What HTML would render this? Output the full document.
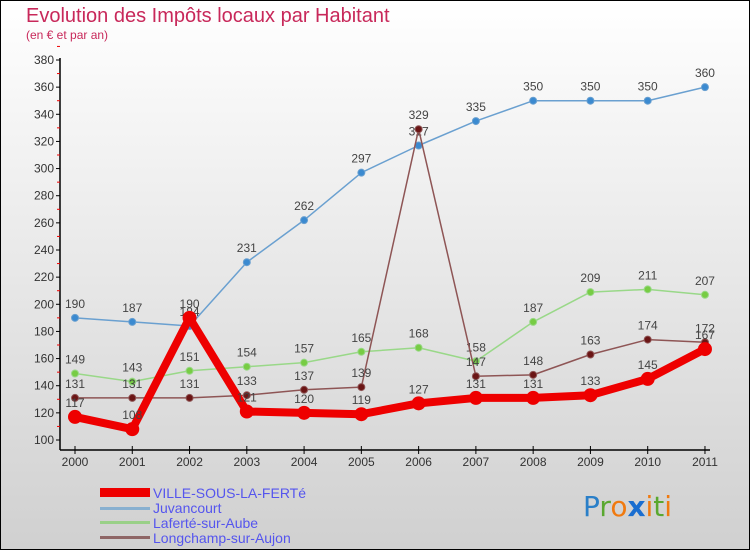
<!DOCTYPE html>
<html><head><meta charset="utf-8"><style>
body{margin:0;width:750px;height:550px;overflow:hidden;font-family:"Liberation Sans",sans-serif}
svg{display:block}
</style></head><body>
<svg width="750" height="550">
<defs><linearGradient id="bg" x1="0" y1="0" x2="0" y2="1"><stop offset="0" stop-color="#ffffff"/><stop offset="1" stop-color="#d0d0d0"/></linearGradient></defs>
<rect x="0.5" y="0.5" width="749" height="549" fill="url(#bg)" stroke="#000"/>
<text x="26" y="22" font-size="20" fill="#c8285a">Evolution des Impôts locaux par Habitant</text>
<text x="26" y="39" font-size="12" fill="#c8285a">(en € et par an)</text>
<g id="axes"></g>
<g id="series"></g>
<g>
<rect x="100" y="488" width="50" height="9" fill="#ee0000"/>
<text x="153" y="498" font-size="14" fill="#5555ee">VILLE-SOUS-LA-FERTé</text>
<rect x="100" y="507" width="50" height="3" fill="#88b0d0"/>
<text x="153" y="513" font-size="14" fill="#5555ee">Juvancourt</text>
<rect x="100" y="521" width="50" height="3" fill="#99d088"/>
<text x="153" y="528" font-size="14" fill="#5555ee">Laferté-sur-Aube</text>
<rect x="100" y="536" width="50" height="3" fill="#8e6666"/>
<text x="153" y="543" font-size="14" fill="#5555ee">Longchamp-sur-Aujon</text>
</g>
<g font-size="28" font-family="'DejaVu Sans',sans-serif">
<text x="583" y="516"><tspan fill="#2a7fc8">P</tspan><tspan fill="#5aa830">r</tspan><tspan fill="#f07a10">o</tspan><tspan fill="#1a6ed0" font-weight="bold">x</tspan><tspan fill="#f07a10">i</tspan><tspan fill="#5aa830">t</tspan><tspan fill="#f07a10">i</tspan></text>
</g>
</svg>
<script>
const years=[2000,2001,2002,2003,2004,2005,2006,2007,2008,2009,2010,2011];
const yTicks=[100,120,140,160,180,200,220,240,260,280,300,320,340,360,380];
const ville=[117,108,190,121,120,119,127,131,131,133,145,167];
const juvancourt=[190,187,184,231,262,297,317,335,350,350,350,360];
const laferte=[149,143,151,154,157,165,168,158,187,209,211,207];
const longchamp=[131,131,131,133,137,139,329,147,148,163,174,172];
const NS='http://www.w3.org/2000/svg';
const xS=i=>75+i*57.27;
const yS=v=>440-(v-100)*(380/280);
function mk(tag,attrs,parent){const e=document.createElementNS(NS,tag);for(const k in attrs)e.setAttribute(k,attrs[k]);parent.appendChild(e);return e;}
const ax=document.getElementById('axes');
let yl=mk('line',{x1:60,y1:58,x2:60,y2:450,stroke:'#000','stroke-width':1.5},ax);


let xl=mk('line',{x1:60,y1:450,x2:710,y2:450,stroke:'#000','stroke-width':1.5},ax);


yTicks.forEach(v=>{
  mk('line',{x1:56,y1:yS(v),x2:60,y2:yS(v),stroke:'#000'},ax);
  mk('line',{x1:57,y1:yS(v+10),x2:60,y2:yS(v+10),stroke:'#e00'},ax);
  const t=mk('text',{x:54,y:yS(v)+4,'font-size':12,fill:'#333','text-anchor':'end'},ax);
  t.textContent=v;
  
  
});
years.forEach((yr,i)=>{
  mk('line',{x1:xS(i),y1:446,x2:xS(i),y2:454,stroke:'#000'},ax);
  const t=mk('text',{x:xS(i),y:466,'font-size':12,fill:'#333','text-anchor':'middle'},ax);
  t.textContent=yr;
  
  
});
const sg=document.getElementById('series');
function draw(data,name,color,dot,w,r){
  const g=mk('g',{},sg);
  
  
  const pts=data.map((v,i)=>xS(i)+','+yS(v)).join(' ');
  const l=mk('polyline',{points:pts,fill:'none',stroke:color,'stroke-width':w,'stroke-linejoin':'round'},g);
  
  
  data.forEach((v,i)=>{
    const c=mk('circle',{cx:xS(i),cy:yS(v),r:r,fill:dot,stroke:color,'stroke-width':1},g);
    
    
    const t=mk('text',{x:xS(i),y:yS(v)-10,'font-size':12,fill:'#444','text-anchor':'middle'},g);
    t.textContent=v;
    
    
  });
}
draw(juvancourt,'juvancourt','#6aa0d0','#3b8ad0',1.5,3.5);
draw(laferte,'laferte','#99d888','#77cc44',1.5,3.5);
draw(longchamp,'longchamp','#8e5555','#6b1515',1.5,3.5);
draw(ville,'ville','#ee0000','#ee0000',8,6.5);
</script>
</body></html>
